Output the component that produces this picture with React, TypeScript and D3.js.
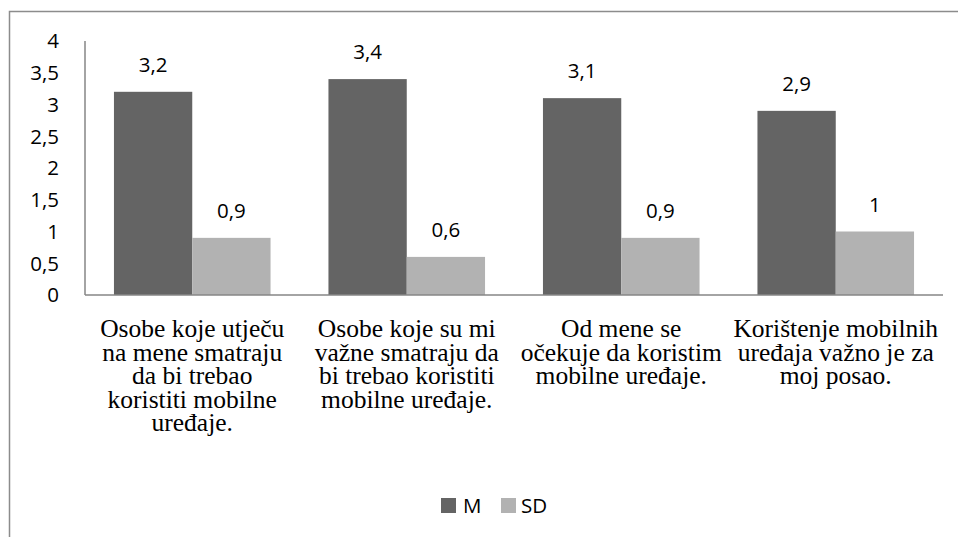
import React from "react";
import * as d3 from "d3";

const categories: string[][] = [
  ["Osobe koje utječu", "na mene smatraju", "da bi trebao", "koristiti mobilne", "uređaje."],
  ["Osobe koje su mi", "važne smatraju da", "bi trebao koristiti", "mobilne uređaje."],
  ["Od mene se", "očekuje da koristim", "mobilne uređaje."],
  ["Korištenje mobilnih", "uređaja važno je za", "moj posao."],
];
const seriesNames = ["M", "SD"];
const mValues = [3.2, 3.4, 3.1, 2.9];
const sdValues = [0.9, 0.6, 0.9, 1];
const yTicks = [0, 0.5, 1, 1.5, 2, 2.5, 3, 3.5, 4];
const colors = ["#646464", "#b2b2b2"];

const W = 958;
const H = 537;
const left = 85;
const right = 943;
const top = 41;
const bottom = 295;

const fmt = (v: number) => String(v).replace(".", ",");

export default function App() {
  const idx = categories.map((_, i) => String(i));
  const x0 = d3.scaleBand<string>().domain(idx).range([left, right]).padding(0);
  const bw = x0.bandwidth();
  const x1 = d3
    .scaleBand<string>()
    .domain(seriesNames)
    .range([bw * 0.135, bw * (1 - 0.135)])
    .padding(0);
  const y = d3.scaleLinear().domain([0, 4]).range([bottom, top]);
  const series = [mValues, sdValues];
  const sans = "'Open Sans', 'Noto Sans', sans-serif";
  const serif = "'Liberation Serif', 'Times New Roman', 'DejaVu Serif', serif";

  return (
    <svg
      width={W}
      height={H}
      style={{ position: "absolute", left: 0, top: 0, background: "#fff" }}
    >
      <rect x={9.5} y={11.5} width={W + 20} height={H + 20} fill="#fff" stroke="#8c8c8c" strokeWidth={1.5} />
      {yTicks.map((t) => (
        <text
          key={t}
          x={59}
          y={y(t)}
          dy="0.36em"
          textAnchor="end"
          style={{ fontFamily: sans, fontSize: 20.5 }}
          fill="#000"
        >
          {fmt(t)}
        </text>
      ))}
      {idx.map((c, i) =>
        series.map((vals, s) => {
          const bx = (x0(c) as number) + (x1(seriesNames[s]) as number);
          const w = x1.bandwidth();
          return (
            <g key={c + s}>
              <rect x={bx} y={y(vals[i])} width={w} height={bottom - y(vals[i])} fill={colors[s]} />
              <text
                x={bx + w / 2}
                y={y(vals[i]) - 20}
                textAnchor="middle"
                style={{ fontFamily: sans, fontSize: 20.5 }}
                fill="#000"
              >
                {fmt(vals[i])}
              </text>
            </g>
          );
        })
      )}
      <line x1={left} x2={left} y1={top} y2={bottom} stroke="#868686" strokeWidth={1.5} />
      <line x1={left} x2={right} y1={bottom} y2={bottom} stroke="#868686" strokeWidth={1.5} />
      {categories.map((lines, i) =>
        lines.map((ln, j) => (
          <text
            key={i + "-" + j}
            x={(x0(String(i)) as number) + bw / 2}
            y={337 + j * 23.6}
            textAnchor="middle"
            style={{ fontFamily: serif, fontSize: 25.5 }}
            fill="#000"
          >
            {ln}
          </text>
        ))
      )}
      <g>
        <rect x={441} y={498} width={15} height={15} fill={colors[0]} />
        <text x={463} y={505.5} dy="0.36em" style={{ fontFamily: sans, fontSize: 20.5 }} fill="#000">
          {seriesNames[0]}
        </text>
        <rect x={501} y={498} width={15} height={15} fill={colors[1]} />
        <text x={521} y={505.5} dy="0.36em" style={{ fontFamily: sans, fontSize: 20.5 }} fill="#000">
          {seriesNames[1]}
        </text>
      </g>
    </svg>
  );
}
